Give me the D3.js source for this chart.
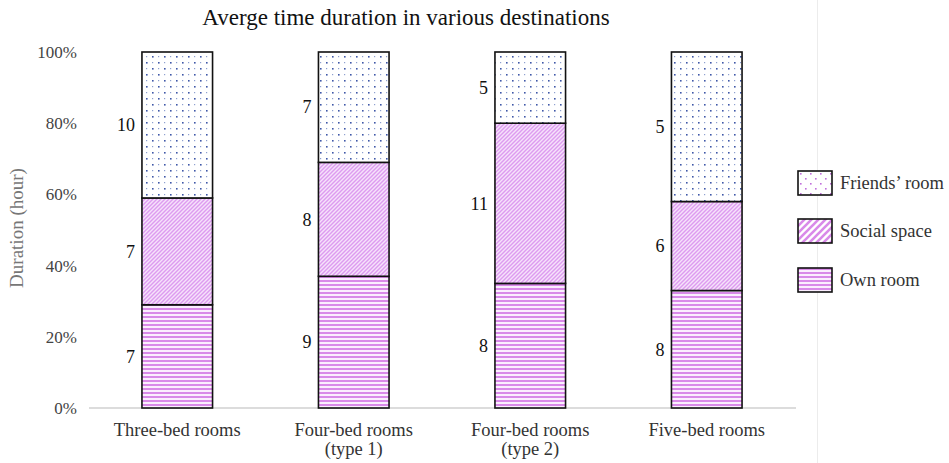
<!DOCTYPE html>
<html lang="en">
<head>
<meta charset="utf-8">
<script src="https://d3js.org/d3.v7.min.js"></script>
<style type="text/css">
body {
	margin: 0;
	background: #fff;
}
svg text {
	font-family: "Liberation Serif", "Times New Roman", serif;
}
</style>
</head>
<body>
<script type="text/javascript">

// Room types (second line in brackets)
var categories = ["Three-bed rooms", "Four-bed rooms|(type 1)", "Four-bed rooms|(type 2)", "Five-bed rooms"];

// Share of the bar (percent)
var ownShare     = [29, 37, 35, 33];
var socialShare  = [30, 32, 45, 25];
var friendsShare = [41, 31, 20, 42];

// Hours printed next to each segment
var ownHours     = [7, 9, 8, 8];
var socialHours  = [7, 8, 11, 6];
var friendsHours = [10, 7, 5, 5];

var seriesNames = ["Own room", "Social space", "Friends’ room"];
var yTicks = [0, 20, 40, 60, 80, 100];

var width = 949;
var height = 463;

var svg = d3.select("body")
			.append("svg")
			.attr("width", width)
			.attr("height", height);

// Patterns
var defs = svg.append("defs");

var stripes = defs.append("pattern")
	.attr("id", "own")
	.attr("patternUnits", "userSpaceOnUse")
	.attr("width", 8).attr("height", 4);
stripes.append("rect").attr("width", 8).attr("height", 4).attr("fill", "#fbeefe");
stripes.append("rect").attr("y", 0).attr("width", 8).attr("height", 2).attr("fill", "#d98ae9");

var diag = defs.append("pattern")
	.attr("id", "social")
	.attr("patternUnits", "userSpaceOnUse")
	.attr("width", 4).attr("height", 4);
diag.append("rect").attr("width", 4).attr("height", 4).attr("fill", "#f6e2fb");
diag.append("path")
	.attr("d", "M-1,1 l2,-2 M0,4 l4,-4 M3,5 l2,-2")
	.attr("stroke", "#dd9bf0").attr("stroke-width", 1.4);

var diagBig = defs.append("pattern")
	.attr("id", "socialLegend")
	.attr("patternUnits", "userSpaceOnUse")
	.attr("width", 7).attr("height", 7);
diagBig.append("rect").attr("width", 7).attr("height", 7).attr("fill", "#fff");
diagBig.append("path")
	.attr("d", "M-1,1 l2,-2 M0,7 l7,-7 M6,8 l2,-2")
	.attr("stroke", "#d98ae9").attr("stroke-width", 2.6);

var dots = defs.append("pattern")
	.attr("id", "friends")
	.attr("patternUnits", "userSpaceOnUse")
	.attr("width", 12).attr("height", 12);
dots.append("rect").attr("width", 12).attr("height", 12).attr("fill", "#fff");
dots.append("rect").attr("x", 2).attr("y", 2).attr("width", 1.6).attr("height", 1.6).attr("fill", "#3f58a8");
dots.append("rect").attr("x", 8).attr("y", 8).attr("width", 1.6).attr("height", 1.6).attr("fill", "#3f58a8");
dots.append("rect").attr("x", 8).attr("y", 2).attr("width", 1.2).attr("height", 1.2).attr("fill", "#8fa0d0");
dots.append("rect").attr("x", 2).attr("y", 8).attr("width", 1.2).attr("height", 1.2).attr("fill", "#8fa0d0");

var dotsLegend = defs.append("pattern")
	.attr("id", "friendsLegend")
	.attr("patternUnits", "userSpaceOnUse")
	.attr("width", 10).attr("height", 10);
dotsLegend.append("rect").attr("width", 10).attr("height", 10).attr("fill", "#fff");
dotsLegend.append("rect").attr("x", 2).attr("y", 2).attr("width", 1.6).attr("height", 1.6).attr("fill", "#c070dc");
dotsLegend.append("rect").attr("x", 7).attr("y", 7).attr("width", 1.6).attr("height", 1.6).attr("fill", "#c070dc");

// Scales
var x = d3.scaleBand()
		  .domain(categories)
		  .range([89, 795])
		  .paddingInner(0.6)
		  .paddingOuter(0.3);

var y = d3.scaleLinear()
		  .domain([0, 100])
		  .range([408, 52]);

// Title
svg.append("text")
   .attr("x", 406)
   .attr("y", 25)
   .attr("text-anchor", "middle")
   .style("font-size", "23px")
   .style("fill", "#111")
   .text("Averge time duration in various destinations");

// Y axis labels
svg.append("g")
   .selectAll("text")
   .data(yTicks)
   .enter()
   .append("text")
   .attr("x", 77)
   .attr("y", function(d) { return y(d); })
   .attr("dy", "0.35em")
   .attr("text-anchor", "end")
   .style("font-size", "17px")
   .style("fill", "#444")
   .text(function(d) { return d + "%"; });

svg.append("text")
   .attr("transform", "translate(23," + (y(50) - 2) + ") rotate(-90)")
   .attr("text-anchor", "middle")
   .style("font-size", "19px")
   .style("fill", "#777")
   .text("Duration (hour)");

// Baseline
svg.append("line")
   .attr("x1", 89).attr("x2", 796)
   .attr("y1", y(0)).attr("y2", y(0))
   .style("stroke", "#d0d0d0")
   .style("stroke-width", 1.5);

// Right border
svg.append("line")
   .attr("x1", 817.5).attr("x2", 817.5)
   .attr("y1", 0).attr("y2", height)
   .style("stroke", "#ececec");

// Stack data
var rows = categories.map(function(c, i) {
	return { cat: c, own: ownShare[i], social: socialShare[i], friends: friendsShare[i],
			 hours: [ownHours[i], socialHours[i], friendsHours[i]] };
});
var keys = ["own", "social", "friends"];
var stack = d3.stack().keys(keys)(rows);

var layers = svg.selectAll(".layer")
	.data(stack)
	.enter()
	.append("g")
	.attr("class", "layer");

layers.selectAll("rect")
	.data(function(d) { return d; })
	.enter()
	.append("rect")
	.attr("x", function(d) { return x(d.data.cat); })
	.attr("y", function(d) { return y(d[1]); })
	.attr("width", x.bandwidth())
	.attr("height", function(d) { return y(d[0]) - y(d[1]); })
	.style("fill", function(d) { return "url(#" + d3.select(this.parentNode).datum().key + ")"; })
	.style("stroke", "#111")
	.style("stroke-width", 1.6);

// Hour labels left of each segment
layers.each(function(layer, k) {
	d3.select(this).selectAll("text")
		.data(layer)
		.enter()
		.append("text")
		.attr("x", function(d) { return x(d.data.cat) - 7; })
		.attr("y", function(d) { return (y(d[0]) + y(d[1])) / 2; })
		.attr("dy", "0.35em")
		.attr("text-anchor", "end")
		.style("font-size", "18px")
		.style("fill", "#111")
		.text(function(d) { return d.data.hours[k]; });
});

// Category labels
svg.selectAll(".cat")
   .data(categories)
   .enter()
   .append("text")
   .attr("class", "cat")
   .attr("text-anchor", "middle")
   .attr("y", 436)
   .style("font-size", "18.5px")
   .style("fill", "#333")
   .each(function(d) {
		var parts = d.split("|");
		var t = d3.select(this);
		parts.forEach(function(p, i) {
			t.append("tspan")
			 .attr("x", x(d) + x.bandwidth() / 2)
			 .attr("dy", i ? 19 : 0)
			 .text(p);
		});
   });

// Legend
var legendFills = ["url(#friendsLegend)", "url(#socialLegend)", "url(#own)"];
var legendText = seriesNames.slice().reverse();
var legendY = [171, 219, 268];

var legend = svg.selectAll(".legend")
	.data(legendText)
	.enter()
	.append("g")
	.attr("class", "legend")
	.attr("transform", function(d, i) { return "translate(798," + legendY[i] + ")"; });

legend.append("rect")
	  .attr("width", 34)
	  .attr("height", 24)
	  .style("fill", function(d, i) { return legendFills[i]; })
	  .style("stroke", "#111")
	  .style("stroke-width", 1.6);

legend.append("text")
	  .attr("x", 42)
	  .attr("y", 12)
	  .attr("dy", "0.35em")
	  .style("font-size", "18.5px")
	  .style("fill", "#333")
	  .text(function(d) { return d; });

</script>
</body>
</html>
